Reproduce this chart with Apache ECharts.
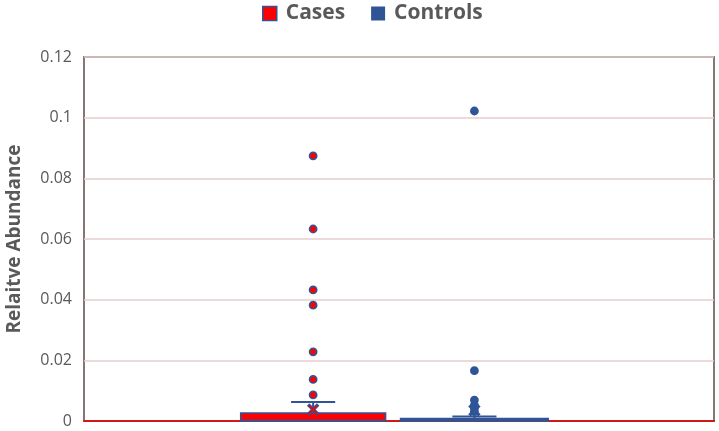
<!DOCTYPE html>
<html><head><meta charset="utf-8">
<script src="https://cdn.jsdelivr.net/npm/echarts@6/dist/echarts.min.js"></script>
<style>html,body{margin:0;padding:0;background:#fff}#c{width:719px;height:431px}</style>
</head><body><div id="c"></div>
<script>
// ---- data ----
const seriesNames = ['Cases', 'Controls'];
// [min, Q1, median, Q3, max(whisker)]
const casesBox = [0, 0, 0.0003, 0.0026, 0.0063];
const controlsBox = [0, 0, 0.0002, 0.0008, 0.0015];
const casesMean = 0.0038;
const controlsMean = 0.0035;
const casesOutliers = [0.0874, 0.0633, 0.0432, 0.0382, 0.0228, 0.0137, 0.0086];
const controlsOutliers = [0.1022, 0.0166, 0.0069, 0.0052, 0.0042, 0.0031];
const yMin = 0, yMax = 0.12, yStep = 0.02;

// ---- style / layout ----
const BLUE = '#2f5597', RED = '#ff0000';
const fills = [RED, BLUE];
const offsets = [-0.1363, 0.1197];   // fraction of plot band
const boxW = [0.23, 0.2345];
const capW = 0.07;

function boxRender(g) {
  return function (params, api) {
    const band = api.size([1, 0])[0];
    const cx = api.coord([0, 0])[0] + offsets[g] * band;
    const w = boxW[g] * band;
    const y = i => api.coord([0, api.value(i)])[1];
    const yMn = y(1), yQ1 = y(2), yMd = y(3), yQ3 = y(4), yMx = y(5), yMean = y(6);
    const cw = capW * band;
    const ls = { stroke: BLUE, lineWidth: 2 };
    const s = 5;
    const children = [
      { type: 'line', shape: { x1: cx, y1: yQ3, x2: cx, y2: yMx }, style: ls },
      { type: 'line', shape: { x1: cx, y1: yQ1, x2: cx, y2: yMn }, style: ls },
      { type: 'rect', shape: { x: cx - w / 2, y: yQ3, width: w, height: Math.max(yQ1 - yQ3, 1) },
        style: { fill: fills[g], stroke: BLUE, lineWidth: 1.5 } },
      { type: 'line', shape: { x1: cx - w / 2, y1: yMd, x2: cx + w / 2, y2: yMd }, style: { stroke: BLUE, lineWidth: 1 } },
      { type: 'line', shape: { x1: cx - s, y1: yMean - s, x2: cx + s, y2: yMean + s }, style: { stroke: BLUE, lineWidth: 3.5 } },
      { type: 'line', shape: { x1: cx - s, y1: yMean + s, x2: cx + s, y2: yMean - s }, style: { stroke: BLUE, lineWidth: 3.5 } },
      { type: 'line', shape: { x1: cx - s + 1, y1: yMean - s + 1, x2: cx + s - 1, y2: yMean + s - 1 }, style: { stroke: fills[g], lineWidth: 1.5 } },
      { type: 'line', shape: { x1: cx - s + 1, y1: yMean + s - 1, x2: cx + s - 1, y2: yMean - s + 1 }, style: { stroke: fills[g], lineWidth: 1.5 } },
      { type: 'line', shape: { x1: cx - cw / 2, y1: yMx, x2: cx + cw / 2, y2: yMx }, style: ls }
    ];
    return { type: 'group', children };
  };
}
function outRender(g) {
  return function (params, api) {
    const band = api.size([1, 0])[0];
    const p = api.coord([0, api.value(1)]);
    const cx = p[0] + offsets[g] * band;
    return { type: 'circle', shape: { cx: cx, cy: p[1], r: 3.6 },
      style: { fill: fills[g], stroke: BLUE, lineWidth: 1.6 } };
  };
}

const boxes = [casesBox, controlsBox];
const means = [casesMean, controlsMean];
const outs = [casesOutliers, controlsOutliers];
const series = [];
seriesNames.forEach((name, g) => {
  series.push({
    name, type: 'custom', renderItem: boxRender(g),
    itemStyle: { color: fills[g] },
    encode: { x: 0, y: [1, 2, 3, 4, 5, 6] },
    data: [[0].concat(boxes[g]).concat([means[g]])], z: 3
  });
  series.push({
    name, type: 'custom', renderItem: outRender(g),
    itemStyle: { color: fills[g] },
    encode: { x: 0, y: 1 },
    data: outs[g].map(v => [0, v]), z: 4
  });
});

const chart = echarts.init(document.getElementById('c'), null, { renderer: 'canvas' });
chart.setOption({
  animation: false,
  backgroundColor: '#fff',
  legend: {
    top: -2, left: 257, itemWidth: 14, itemHeight: 14, itemGap: 26, icon: 'rect',
    selectedMode: false,
    data: [
      { name: 'Cases', itemStyle: { color: RED, borderColor: BLUE, borderWidth: 1.5 } },
      { name: 'Controls', itemStyle: { color: BLUE, borderWidth: 0 } }
    ],
    textStyle: { fontSize: 21, fontWeight: 'bold', color: '#595959', fontFamily: 'Open Sans', padding: [0, 0, 0, 4] }
  },
  grid: { left: 84, right: 5, top: 57, bottom: 10, show: true, borderColor: '#857575', borderWidth: 2,
    containLabel: false, outerBoundsMode: 'none' },
  xAxis: {
    type: 'category', data: [''], boundaryGap: true,
    axisLine: { show: true, lineStyle: { color: '#d01818', width: 2 } },
    axisTick: { show: false }, axisLabel: { show: false }, splitLine: { show: false }
  },
  yAxis: {
    type: 'value', min: yMin, max: yMax, interval: yStep,
    name: 'Relaitve Abundance', nameLocation: 'middle', nameGap: 60,
    nameTextStyle: { fontSize: 19, fontWeight: 'bold', color: '#595959', fontFamily: 'Open Sans' },
    axisLine: { show: false }, axisTick: { show: false },
    axisLabel: { fontSize: 16, color: '#595959', margin: 12, fontFamily: 'Open Sans',
      formatter: v => String(parseFloat(v.toFixed(4))) },
    splitLine: { lineStyle: { color: '#e6cccc', width: 1.5 } }
  },
  series
});
</script></body></html>
